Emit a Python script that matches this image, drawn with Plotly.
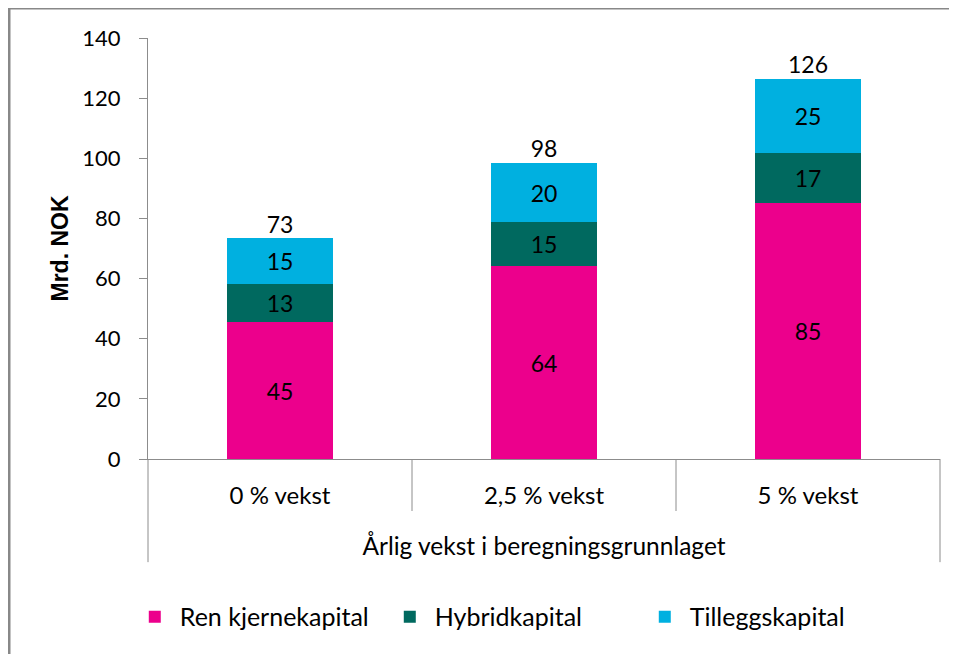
import plotly.graph_objects as go

categories = ["0 % vekst", "2,5 % vekst", "5 % vekst"]
ren_kjerne = [45.4, 64.1, 85.1]
hybrid = [12.8, 14.7, 16.8]
tillegg = [15.2, 19.6, 24.5]
totals = [a + b + c for a, b, c in zip(ren_kjerne, hybrid, tillegg)]

series_names = ["Ren kjernekapital", "Hybridkapital", "Tilleggskapital"]
colors = ["#EC008C", "#00695F", "#00B0E0"]

FONT = "Lato"
GREY = "#8C8C8C"

fig = go.Figure()
for name, vals, col in zip(series_names, [ren_kjerne, hybrid, tillegg], colors):
    fig.add_trace(go.Bar(
        x=categories, y=vals, name=name, marker=dict(color=col, line=dict(width=0)),
        texttemplate="%{y:.0f}", textposition="inside", insidetextanchor="middle",
        textangle=0, constraintext="none",
        textfont=dict(color="black", size=23, family=FONT),
        hoverinfo="skip",
    ))

fig.add_trace(go.Scatter(
    x=categories, y=totals, mode="text", text=[f"{t:.0f}" for t in totals],
    textposition="top center", textfont=dict(color="black", size=23, family=FONT),
    showlegend=False, hoverinfo="skip", cliponaxis=False,
))

shapes = []
# hierarchical category separators
for xp, ylow in [(0, -0.245), (1/3, -0.1235), (2/3, -0.1235), (1, -0.245)]:
    shapes.append(dict(type="line", xref="paper", yref="paper", x0=xp, x1=xp, y0=0, y1=ylow,
                       line=dict(color=GREY, width=1)))
# outer chart frame
shapes.append(dict(type="rect", xref="paper", yref="paper", x0=-0.1755, x1=1.1, y0=-0.6, y1=1.0712,
                   line=dict(color="#888888", width=3), layer="below"))

fig.update_layout(
    width=949, height=646, autosize=False,
    margin=dict(l=140, r=17, t=30, b=195, autoexpand=False),
    paper_bgcolor="white", plot_bgcolor="white",
    barmode="stack", bargap=0.6,
    font=dict(family=FONT, size=22, color="black"),
    shapes=shapes,
    showlegend=True,
    legend=dict(orientation="h", x=-0.023, xanchor="left", y=-0.375, yanchor="middle",
                font=dict(size=25, family=FONT), traceorder="normal",
                itemwidth=40, entrywidth=200, entrywidthmode="pixels"),
    xaxis=dict(
        showline=True, linecolor=GREY, linewidth=1, ticks="", showgrid=False,
        tickfont=dict(size=24), ticklabelstandoff=15, automargin=False,
        title=dict(text="Årlig vekst i beregningsgrunnlaget", font=dict(size=24.5), standoff=30),
        range=[-0.5, 2.5],
    ),
    yaxis=dict(
        range=[0, 140], dtick=20, showline=True, linecolor=GREY, linewidth=1,
        ticks="outside", ticklen=8, tickcolor=GREY, showgrid=False, zeroline=False,
        tickfont=dict(size=22), ticklabelstandoff=14, automargin=False,
        title=dict(text="<b>Mrd. NOK</b>", font=dict(size=23, family="Liberation Sans"), standoff=7),
    ),
)

fig.write_html("out.html")
